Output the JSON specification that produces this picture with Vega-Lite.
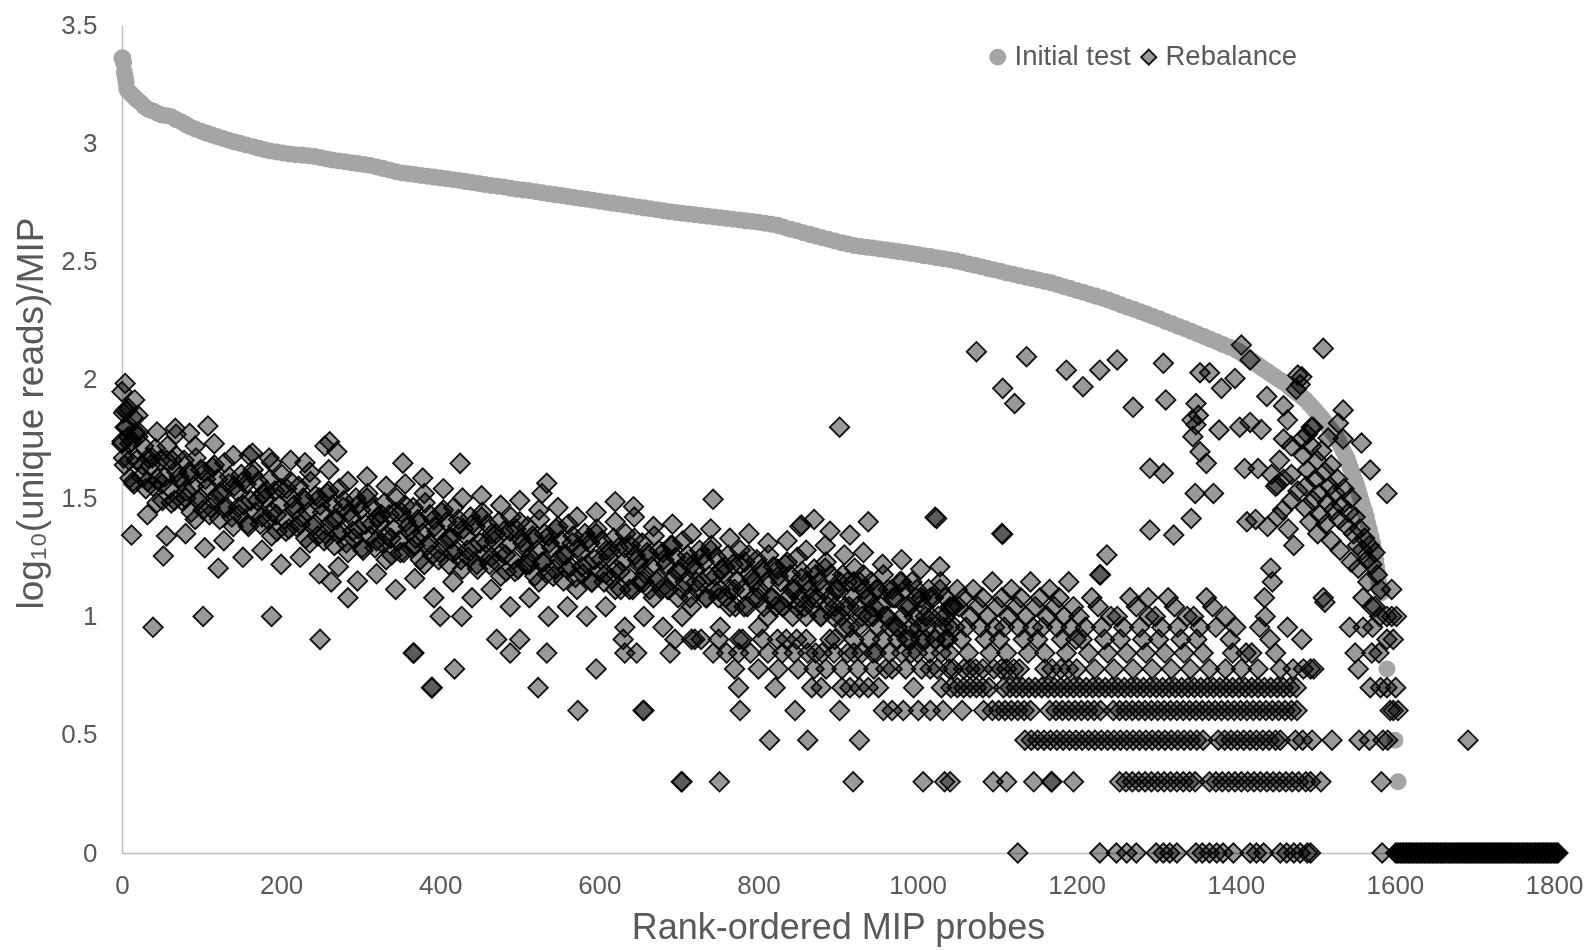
{
"$schema": "https://vega.github.io/schema/vega-lite/v6.json",
"width": 1432, "height": 828,
"autosize": {"type": "none"},
"padding": {"left": 122, "top": 25, "right": 39, "bottom": 97},
"background": "white",
"config": {
  "font": "Liberation Sans",
  "view": {"stroke": null},
  "axis": {"domainColor": "#bfbfbf", "domainWidth": 1.5, "labelFontSize": 26, "labelColor": "#595959", "titleFontSize": 36, "titleColor": "#595959", "titleFontWeight": "normal", "labelFont": "Liberation Sans", "titleFont": "Liberation Sans", "grid": false, "ticks": false, "tickSize": 0, "labelFlush": false}
},
"datasets": {
"init": [
{"x":0,"y":3.36},{"x":1,"y":3.36},{"x":2,"y":3.34},{"x":3,"y":3.3},{"x":4,"y":3.28},{"x":5,"y":3.26},{"x":6,"y":3.23},{"x":8,"y":3.22},{"x":11,"y":3.21},{"x":14,"y":3.2},{"x":17,"y":3.19},{"x":20,"y":3.18},{"x":24,"y":3.17},{"x":28,"y":3.155},{"x":32,"y":3.145},{"x":36,"y":3.14},{"x":40,"y":3.135},{"x":45,"y":3.126},{"x":50,"y":3.12},{"x":56,"y":3.116},{"x":62,"y":3.112},{"x":68,"y":3.1},{"x":75,"y":3.09},{"x":80,"y":3.08},{"x":85,"y":3.07},{"x":92,"y":3.06},{"x":100,"y":3.05},{"x":106,"y":3.043},{"x":113,"y":3.035},{"x":120,"y":3.028},{"x":127,"y":3.02},{"x":134,"y":3.013},{"x":141,"y":3.006},{"x":148,"y":3.0},{"x":156,"y":2.993},{"x":165,"y":2.985},{"x":172,"y":2.979},{"x":179,"y":2.973},{"x":186,"y":2.967},{"x":194,"y":2.963},{"x":202,"y":2.959},{"x":210,"y":2.955},{"x":218,"y":2.952},{"x":226,"y":2.95},{"x":234,"y":2.947},{"x":242,"y":2.944},{"x":250,"y":2.939},{"x":257,"y":2.934},{"x":264,"y":2.929},{"x":272,"y":2.925},{"x":280,"y":2.922},{"x":288,"y":2.918},{"x":296,"y":2.914},{"x":304,"y":2.91},{"x":312,"y":2.906},{"x":320,"y":2.9},{"x":328,"y":2.894},{"x":336,"y":2.887},{"x":344,"y":2.88},{"x":352,"y":2.874},{"x":360,"y":2.871},{"x":368,"y":2.868},{"x":376,"y":2.864},{"x":384,"y":2.861},{"x":392,"y":2.857},{"x":400,"y":2.853},{"x":408,"y":2.85},{"x":416,"y":2.846},{"x":424,"y":2.843},{"x":432,"y":2.838},{"x":440,"y":2.834},{"x":448,"y":2.83},{"x":456,"y":2.826},{"x":464,"y":2.822},{"x":472,"y":2.818},{"x":480,"y":2.815},{"x":488,"y":2.81},{"x":496,"y":2.806},{"x":504,"y":2.803},{"x":512,"y":2.799},{"x":520,"y":2.795},{"x":528,"y":2.791},{"x":536,"y":2.787},{"x":544,"y":2.783},{"x":552,"y":2.779},{"x":560,"y":2.775},{"x":568,"y":2.771},{"x":576,"y":2.767},{"x":584,"y":2.763},{"x":592,"y":2.759},{"x":600,"y":2.755},{"x":608,"y":2.751},{"x":616,"y":2.747},{"x":624,"y":2.743},{"x":632,"y":2.739},{"x":640,"y":2.735},{"x":648,"y":2.731},{"x":656,"y":2.727},{"x":664,"y":2.723},{"x":672,"y":2.719},{"x":680,"y":2.715},{"x":688,"y":2.711},{"x":696,"y":2.707},{"x":704,"y":2.704},{"x":712,"y":2.701},{"x":720,"y":2.698},{"x":728,"y":2.695},{"x":736,"y":2.692},{"x":744,"y":2.688},{"x":752,"y":2.685},{"x":760,"y":2.682},{"x":768,"y":2.679},{"x":776,"y":2.676},{"x":784,"y":2.672},{"x":792,"y":2.669},{"x":800,"y":2.666},{"x":808,"y":2.662},{"x":816,"y":2.658},{"x":824,"y":2.653},{"x":832,"y":2.645},{"x":840,"y":2.637},{"x":848,"y":2.63},{"x":856,"y":2.622},{"x":864,"y":2.615},{"x":872,"y":2.608},{"x":880,"y":2.601},{"x":888,"y":2.594},{"x":896,"y":2.587},{"x":904,"y":2.58},{"x":912,"y":2.574},{"x":920,"y":2.568},{"x":928,"y":2.564},{"x":936,"y":2.561},{"x":944,"y":2.557},{"x":952,"y":2.553},{"x":960,"y":2.55},{"x":968,"y":2.546},{"x":976,"y":2.542},{"x":984,"y":2.538},{"x":992,"y":2.534},{"x":1000,"y":2.53},{"x":1008,"y":2.525},{"x":1016,"y":2.521},{"x":1024,"y":2.516},{"x":1032,"y":2.512},{"x":1040,"y":2.508},{"x":1048,"y":2.503},{"x":1056,"y":2.497},{"x":1064,"y":2.49},{"x":1072,"y":2.484},{"x":1080,"y":2.478},{"x":1088,"y":2.471},{"x":1096,"y":2.465},{"x":1104,"y":2.459},{"x":1112,"y":2.452},{"x":1120,"y":2.446},{"x":1128,"y":2.44},{"x":1136,"y":2.434},{"x":1144,"y":2.428},{"x":1152,"y":2.422},{"x":1160,"y":2.416},{"x":1168,"y":2.41},{"x":1176,"y":2.402},{"x":1184,"y":2.394},{"x":1192,"y":2.386},{"x":1200,"y":2.378},{"x":1208,"y":2.37},{"x":1216,"y":2.362},{"x":1224,"y":2.354},{"x":1232,"y":2.346},{"x":1240,"y":2.337},{"x":1248,"y":2.327},{"x":1256,"y":2.317},{"x":1264,"y":2.307},{"x":1272,"y":2.298},{"x":1280,"y":2.288},{"x":1288,"y":2.278},{"x":1296,"y":2.268},{"x":1304,"y":2.258},{"x":1312,"y":2.247},{"x":1320,"y":2.237},{"x":1328,"y":2.226},{"x":1336,"y":2.216},{"x":1344,"y":2.205},{"x":1352,"y":2.194},{"x":1360,"y":2.183},{"x":1368,"y":2.172},{"x":1376,"y":2.161},{"x":1384,"y":2.149},{"x":1392,"y":2.138},{"x":1400,"y":2.126},{"x":1404,"y":2.12},{"x":1408,"y":2.111},{"x":1412,"y":2.101},{"x":1416,"y":2.092},{"x":1420,"y":2.082},{"x":1424,"y":2.072},{"x":1428,"y":2.062},{"x":1432,"y":2.052},{"x":1436,"y":2.043},{"x":1440,"y":2.034},{"x":1444,"y":2.025},{"x":1448,"y":2.016},{"x":1452,"y":2.007},{"x":1456,"y":1.998},{"x":1460,"y":1.99},{"x":1464,"y":1.98},{"x":1468,"y":1.969},{"x":1472,"y":1.958},{"x":1476,"y":1.948},{"x":1480,"y":1.937},{"x":1484,"y":1.926},{"x":1488,"y":1.915},{"x":1492,"y":1.9},{"x":1496,"y":1.885},{"x":1500,"y":1.87},{"x":1504,"y":1.855},{"x":1508,"y":1.84},{"x":1511,"y":1.826},{"x":1514,"y":1.813},{"x":1517,"y":1.8},{"x":1520,"y":1.786},{"x":1523,"y":1.773},{"x":1526,"y":1.76},{"x":1529,"y":1.74},{"x":1532,"y":1.72},{"x":1535,"y":1.7},{"x":1538,"y":1.68},{"x":1540,"y":1.666},{"x":1542,"y":1.647},{"x":1544,"y":1.628},{"x":1546,"y":1.61},{"x":1548,"y":1.591},{"x":1550,"y":1.572},{"x":1552,"y":1.552},{"x":1554,"y":1.53},{"x":1556,"y":1.508},{"x":1558,"y":1.486},{"x":1560,"y":1.465},{"x":1562,"y":1.443},{"x":1564,"y":1.421},{"x":1566,"y":1.393},{"x":1568,"y":1.365},{"x":1570,"y":1.337},{"x":1572,"y":1.309},{"x":1574,"y":1.281},{"x":1575,"y":1.258},{"x":1576,"y":1.235},{"x":1577,"y":1.211},{"x":1578,"y":1.188},{"x":1579,"y":1.164},{"x":1580,"y":1.14},{"x":1582,"y":1.115},{"x":1583,"y":1.1},{"x":1590,"y":0.778},{"x":1600,"y":0.477},{"x":1604,"y":0.301}
],
"reb": [
{"x":0,"y":1.74},{"x":3,"y":1.64},{"x":6,"y":1.8},{"x":9,"y":1.66},{"x":12,"y":1.74},{"x":15,"y":1.56},{"x":18,"y":1.66},
{"x":21,"y":1.78},{"x":24,"y":1.59},{"x":27,"y":1.72},{"x":30,"y":1.54},{"x":33,"y":1.67},{"x":36,"y":1.64},{"x":39,"y":1.55},{"x":42,"y":1.71},{"x":45,"y":1.58},{"x":48,"y":1.66},
{"x":51,"y":1.49},{"x":54,"y":1.59},{"x":57,"y":1.72},{"x":60,"y":1.54},{"x":63,"y":1.66},{"x":66,"y":1.49},{"x":69,"y":1.61},{"x":72,"y":1.59},{"x":75,"y":1.49},{"x":78,"y":1.66},{"x":81,"y":1.53},{"x":84,"y":1.61},
{"x":87,"y":1.44},{"x":90,"y":1.55},{"x":93,"y":1.67},{"x":96,"y":1.49},{"x":99,"y":1.62},{"x":102,"y":1.45},{"x":105,"y":1.58},{"x":108,"y":1.55},{"x":111,"y":1.46},{"x":114,"y":1.63},{"x":117,"y":1.5},{"x":120,"y":1.58},{"x":123,"y":1.41},{"x":126,"y":1.52},{"x":129,"y":1.65},{"x":132,"y":1.46},{"x":135,"y":1.59},{"x":138,"y":1.42},{"x":141,"y":1.55},{"x":144,"y":1.53},{"x":147,"y":1.43},{"x":150,"y":1.6},
{"x":153,"y":1.47},{"x":156,"y":1.56},{"x":159,"y":1.38},{"x":162,"y":1.49},{"x":165,"y":1.62},{"x":168,"y":1.44},{"x":171,"y":1.57},{"x":174,"y":1.39},{"x":177,"y":1.52},{"x":180,"y":1.5},{"x":183,"y":1.41},{"x":186,"y":1.58},{"x":189,"y":1.44},{"x":192,"y":1.53},{"x":195,"y":1.36},{"x":198,"y":1.47},{"x":201,"y":1.6},{"x":204,"y":1.41},{"x":207,"y":1.54},{"x":210,"y":1.37},
{"x":213,"y":1.5},{"x":216,"y":1.47},{"x":219,"y":1.38},{"x":222,"y":1.55},{"x":225,"y":1.42},{"x":228,"y":1.5},{"x":231,"y":1.33},{"x":234,"y":1.44},{"x":237,"y":1.57},{"x":240,"y":1.38},{"x":243,"y":1.51},{"x":246,"y":1.34},{"x":249,"y":1.47},{"x":252,"y":1.44},{"x":255,"y":1.35},{"x":258,"y":1.52},{"x":261,"y":1.39},{"x":264,"y":1.47},{"x":267,"y":1.3},{"x":270,"y":1.41},
{"x":273,"y":1.54},{"x":276,"y":1.36},{"x":279,"y":1.49},{"x":282,"y":1.31},{"x":285,"y":1.44},{"x":288,"y":1.42},{"x":291,"y":1.33},{"x":294,"y":1.5},{"x":297,"y":1.37},{"x":300,"y":1.45},{"x":303,"y":1.28},{"x":306,"y":1.39},{"x":309,"y":1.52},{"x":312,"y":1.34},{"x":315,"y":1.46},{"x":318,"y":1.29},{"x":321,"y":1.42},{"x":324,"y":1.4},{"x":327,"y":1.31},{"x":330,"y":1.48},{"x":333,"y":1.34},{"x":336,"y":1.43},{"x":339,"y":1.26},
{"x":342,"y":1.37},{"x":345,"y":1.5},{"x":348,"y":1.32},{"x":351,"y":1.44},{"x":354,"y":1.27},{"x":357,"y":1.4},{"x":360,"y":1.38},{"x":363,"y":1.29},{"x":366,"y":1.46},{"x":369,"y":1.33},{"x":372,"y":1.41},{"x":375,"y":1.24},{"x":378,"y":1.35},{"x":381,"y":1.48},{"x":384,"y":1.3},{"x":387,"y":1.43},{"x":390,"y":1.26},{"x":393,"y":1.38},{"x":396,"y":1.36},{"x":399,"y":1.27},
{"x":402,"y":1.44},{"x":405,"y":1.31},{"x":408,"y":1.4},{"x":411,"y":1.22},{"x":414,"y":1.33},{"x":417,"y":1.46},{"x":420,"y":1.28},{"x":423,"y":1.41},{"x":426,"y":1.24},{"x":429,"y":1.37},{"x":432,"y":1.34},{"x":435,"y":1.25},{"x":438,"y":1.42},{"x":441,"y":1.29},{"x":444,"y":1.38},{"x":447,"y":1.2},{"x":450,"y":1.31},{"x":453,"y":1.44},{"x":456,"y":1.26},{"x":459,"y":1.39},{"x":462,"y":1.22},{"x":465,"y":1.35},{"x":468,"y":1.32},{"x":471,"y":1.23},{"x":474,"y":1.4},
{"x":477,"y":1.27},{"x":480,"y":1.36},{"x":483,"y":1.19},{"x":486,"y":1.3},{"x":489,"y":1.42},{"x":492,"y":1.24},{"x":495,"y":1.37},{"x":498,"y":1.2},{"x":501,"y":1.33},{"x":504,"y":1.31},{"x":507,"y":1.22},{"x":510,"y":1.38},{"x":513,"y":1.25},{"x":516,"y":1.34},{"x":519,"y":1.17},{"x":522,"y":1.28},{"x":525,"y":1.41},{"x":528,"y":1.23},{"x":531,"y":1.35},{"x":534,"y":1.18},{"x":537,"y":1.31},{"x":540,"y":1.29},{"x":543,"y":1.2},{"x":546,"y":1.37},{"x":549,"y":1.24},{"x":552,"y":1.32},{"x":555,"y":1.15},{"x":558,"y":1.26},{"x":561,"y":1.39},{"x":564,"y":1.21},{"x":567,"y":1.34},{"x":570,"y":1.165},{"x":573,"y":1.29},{"x":576,"y":1.27},{"x":579,"y":1.18},
{"x":582,"y":1.35},{"x":585,"y":1.22},{"x":588,"y":1.31},{"x":591,"y":1.146},{"x":594,"y":1.24},{"x":597,"y":1.37},{"x":600,"y":1.19},{"x":603,"y":1.32},{"x":606,"y":1.146},{"x":609,"y":1.28},{"x":612,"y":1.25},{"x":615,"y":1.16},{"x":618,"y":1.33},{"x":621,"y":1.2},{"x":624,"y":1.29},{"x":627,"y":1.114},{"x":630,"y":1.23},{"x":633,"y":1.35},{"x":636,"y":1.17},{"x":639,"y":1.3},{"x":642,"y":1.114},{"x":645,"y":1.26},{"x":648,"y":1.24},{"x":651,"y":1.146},{"x":654,"y":1.31},{"x":657,"y":1.18},{"x":660,"y":1.27},{"x":663,"y":1.114},{"x":666,"y":1.21},{"x":669,"y":1.34},{"x":672,"y":1.15},{"x":675,"y":1.28},{"x":678,"y":1.114},{"x":681,"y":1.24},
{"x":684,"y":1.22},{"x":687,"y":1.114},{"x":690,"y":1.3},{"x":693,"y":1.16},{"x":696,"y":1.25},{"x":699,"y":1.079},{"x":702,"y":1.19},{"x":705,"y":1.32},{"x":708,"y":1.146},{"x":711,"y":1.26},{"x":714,"y":1.079},{"x":717,"y":1.22},{"x":720,"y":1.2},{"x":723,"y":1.114},{"x":726,"y":1.28},{"x":729,"y":1.146},{"x":732,"y":1.23},{"x":735,"y":1.079},{"x":738,"y":1.17},{"x":741,"y":1.3},{"x":744,"y":1.114},{"x":747,"y":1.25},{"x":750,"y":1.079},{"x":753,"y":1.2},{"x":756,"y":1.18},{"x":759,"y":1.079},{"x":762,"y":1.26},{"x":765,"y":1.114},{"x":768,"y":1.22},{"x":771,"y":1.041},{"x":774,"y":1.15},{"x":777,"y":1.28},{"x":780,"y":1.114},
{"x":783,"y":1.23},{"x":786,"y":1.041},{"x":789,"y":1.176},{"x":792,"y":1.16},{"x":795,"y":1.079},{"x":798,"y":1.24},{"x":801,"y":1.114},{"x":804,"y":1.2},{"x":807,"y":1.041},{"x":810,"y":1.146},{"x":813,"y":1.26},{"x":816,"y":1.079},{"x":819,"y":1.21},{"x":822,"y":1.041},{"x":825,"y":1.17},{"x":828,"y":1.146},{"x":831,"y":1.041},{"x":834,"y":1.22},{"x":837,"y":1.079},{"x":840,"y":1.176},{"x":843,"y":1.0},{"x":846,"y":1.114},{"x":849,"y":1.25},{"x":852,"y":1.079},{"x":855,"y":1.19},{"x":858,"y":1.041},{"x":861,"y":1.146},{"x":864,"y":1.114},{"x":867,"y":1.041},{"x":870,"y":1.2},{"x":873,"y":1.079},{"x":876,"y":1.146},{"x":879,"y":1.0},{"x":882,"y":1.114},
{"x":885,"y":1.23},{"x":888,"y":1.041},{"x":891,"y":1.176},{"x":894,"y":1.0},{"x":897,"y":1.114},{"x":900,"y":1.114},{"x":903,"y":1.0},{"x":906,"y":1.176},{"x":909,"y":1.041},{"x":912,"y":1.146},{"x":915,"y":0.954},{"x":918,"y":1.079},{"x":921,"y":1.204},{"x":924,"y":1.041},{"x":927,"y":1.146},{"x":930,"y":1.0},{"x":933,"y":1.114},{"x":936,"y":1.079},{"x":939,"y":1.0},{"x":942,"y":1.146},{"x":945,"y":1.041},{"x":948,"y":1.114},{"x":951,"y":0.954},{"x":954,"y":1.041},{"x":957,"y":1.176},{"x":960,"y":1.0},
{"x":963,"y":1.114},{"x":966,"y":0.954},{"x":969,"y":1.079},{"x":972,"y":1.079},{"x":975,"y":0.954},{"x":978,"y":1.146},{"x":981,"y":1.0},{"x":984,"y":1.114},{"x":987,"y":0.903},{"x":990,"y":1.041},{"x":993,"y":1.146},{"x":996,"y":1.0},{"x":999,"y":1.114},{"x":1002,"y":0.954},{"x":1005,"y":1.079},{"x":1008,"y":1.041},{"x":1011,"y":0.954},{"x":1014,"y":1.114},{"x":1017,"y":1.0},{"x":1020,"y":1.079},{"x":1023,"y":0.903},{"x":1026,"y":1.0},{"x":1029,"y":1.146},{"x":1032,"y":0.954},{"x":1035,"y":1.079},{"x":1038,"y":0.903},{"x":1041,"y":1.041},{"x":1044,"y":1.041},{"x":1047,"y":0.954},{"x":1050,"y":1.114},
{"x":2,"y":1.67},{"x":8,"y":1.76},{"x":14,"y":1.57},{"x":20,"y":1.76},{"x":26,"y":1.64},{"x":32,"y":1.57},{"x":38,"y":1.67},{"x":44,"y":1.48},{"x":50,"y":1.56},{"x":56,"y":1.66},{"x":62,"y":1.48},{"x":68,"y":1.68},{"x":74,"y":1.57},{"x":80,"y":1.5},{"x":86,"y":1.6},{"x":92,"y":1.41},{"x":98,"y":1.5},{"x":104,"y":1.61},{"x":110,"y":1.43},{"x":116,"y":1.64},{"x":122,"y":1.52},{"x":128,"y":1.46},{"x":134,"y":1.56},{"x":140,"y":1.38},{"x":146,"y":1.46},{"x":152,"y":1.57},{"x":158,"y":1.39},{"x":164,"y":1.6},{"x":170,"y":1.49},{"x":176,"y":1.42},{"x":182,"y":1.53},{"x":188,"y":1.34},{"x":194,"y":1.43},{"x":200,"y":1.54},{"x":206,"y":1.36},{"x":212,"y":1.57},{"x":218,"y":1.45},{"x":224,"y":1.39},{"x":230,"y":1.49},{"x":236,"y":1.31},{"x":242,"y":1.39},{"x":248,"y":1.5},{"x":254,"y":1.32},{"x":260,"y":1.53},{"x":266,"y":1.41},{"x":272,"y":1.35},{"x":278,"y":1.46},{"x":284,"y":1.27},{"x":290,"y":1.36},{"x":296,"y":1.47},{"x":302,"y":1.29},{"x":308,"y":1.5},{"x":314,"y":1.39},{"x":320,"y":1.32},{"x":326,"y":1.43},{"x":332,"y":1.24},{"x":338,"y":1.33},{"x":344,"y":1.44},{"x":350,"y":1.27},{"x":356,"y":1.47},{"x":362,"y":1.36},{"x":368,"y":1.3},{"x":374,"y":1.4},{"x":380,"y":1.22},{"x":386,"y":1.31},{"x":392,"y":1.41},{"x":398,"y":1.24},{"x":404,"y":1.45},{"x":410,"y":1.33},{"x":416,"y":1.27},{"x":422,"y":1.38},{"x":428,"y":1.2},{"x":434,"y":1.28},{"x":440,"y":1.39},{"x":446,"y":1.22},{"x":452,"y":1.42},{"x":458,"y":1.31},{"x":464,"y":1.25},{"x":470,"y":1.35},{"x":476,"y":1.17},{"x":482,"y":1.26},{"x":488,"y":1.36},{"x":494,"y":1.19},{"x":500,"y":1.4},{"x":506,"y":1.29},{"x":512,"y":1.22},{"x":518,"y":1.33},{"x":524,"y":1.146},{"x":530,"y":1.23},{"x":536,"y":1.34},{"x":542,"y":1.17},{"x":548,"y":1.38},{"x":554,"y":1.26},{"x":560,"y":1.2},{"x":566,"y":1.31},{"x":572,"y":1.114},{"x":578,"y":1.21},{"x":584,"y":1.32},{"x":590,"y":1.146},{"x":596,"y":1.35},{"x":602,"y":1.24},{"x":608,"y":1.18},{"x":614,"y":1.28},{"x":620,"y":1.114},{"x":626,"y":1.19},{"x":632,"y":1.29},{"x":638,"y":1.114},{"x":644,"y":1.33},{"x":650,"y":1.22},{"x":656,"y":1.146},{"x":662,"y":1.26},{"x":668,"y":1.079},{"x":674,"y":1.16},{"x":680,"y":1.27},{"x":686,"y":1.114},{"x":692,"y":1.3},{"x":698,"y":1.19},{"x":704,"y":1.114},{"x":710,"y":1.23},{"x":716,"y":1.041},{"x":722,"y":1.146},{"x":728,"y":1.25},{"x":734,"y":1.079},{"x":740,"y":1.28},{"x":746,"y":1.17},{"x":752,"y":1.114},{"x":758,"y":1.21},{"x":764,"y":1.041},{"x":770,"y":1.114},{"x":776,"y":1.22},{"x":782,"y":1.041},{"x":788,"y":1.26},{"x":794,"y":1.146},{"x":800,"y":1.079},{"x":806,"y":1.19},{"x":812,"y":1.0},{"x":818,"y":1.079},{"x":824,"y":1.2},{"x":830,"y":1.041},{"x":836,"y":1.23},{"x":842,"y":1.114},{"x":848,"y":1.041},{"x":854,"y":1.16},{"x":860,"y":1.0},{"x":866,"y":1.079},{"x":872,"y":1.176},{"x":878,"y":1.0},{"x":884,"y":1.204},{"x":890,"y":1.079},{"x":896,"y":1.041},{"x":902,"y":1.146},{"x":908,"y":0.954},{"x":914,"y":1.041},{"x":920,"y":1.146},{"x":926,"y":0.954},{"x":932,"y":1.176},{"x":938,"y":1.079},{"x":944,"y":1.0},{"x":950,"y":1.114},{"x":956,"y":0.903},{"x":962,"y":1.0},{"x":968,"y":1.114},{"x":974,"y":0.954},{"x":980,"y":1.146},{"x":986,"y":1.041},{"x":992,"y":0.954},{"x":998,"y":1.079},{"x":1004,"y":0.903},{"x":1010,"y":1.0},{"x":1016,"y":1.079},{"x":1022,"y":0.903},{"x":1028,"y":1.114},{"x":1034,"y":1.0},{"x":1040,"y":0.954},{"x":1046,"y":1.041},
{"x":4,"y":1.985},{"x":0,"y":1.95},{"x":16,"y":1.915},{"x":4,"y":1.87},{"x":6,"y":1.87},{"x":14,"y":1.84},{"x":4,"y":1.8},{"x":17,"y":1.78},{"x":0,"y":1.73},{"x":10,"y":1.73},{"x":10,"y":1.585},{"x":12,"y":1.344},{"x":2,"y":1.86},{"x":8,"y":1.88},
{"x":20,"y":1.85},{"x":32,"y":1.43},{"x":44,"y":1.78},{"x":56,"y":1.34},{"x":68,"y":1.77},{"x":80,"y":1.35},{"x":92,"y":1.72},{"x":104,"y":1.29},{"x":116,"y":1.73},{"x":128,"y":1.32},{"x":140,"y":1.68},{"x":152,"y":1.25},{"x":164,"y":1.69},{"x":176,"y":1.28},{"x":188,"y":1.65},{"x":200,"y":1.22},{"x":212,"y":1.66},{"x":224,"y":1.25},{"x":236,"y":1.61},{"x":248,"y":1.18},{"x":260,"y":1.62},{"x":272,"y":1.21},{"x":284,"y":1.57},{"x":296,"y":1.15},{"x":308,"y":1.59},{"x":320,"y":1.18},{"x":332,"y":1.55},{"x":344,"y":1.114},{"x":356,"y":1.56},{"x":368,"y":1.16},{"x":380,"y":1.52},{"x":392,"y":1.079},{"x":404,"y":1.54},{"x":416,"y":1.146},{"x":428,"y":1.5},{"x":440,"y":1.079},{"x":452,"y":1.51},{"x":464,"y":1.114},{"x":476,"y":1.47},{"x":488,"y":1.041},{"x":500,"y":1.49},{"x":512,"y":1.079},{"x":524,"y":1.45},{"x":536,"y":1.0},{"x":548,"y":1.46},{"x":560,"y":1.041},{"x":572,"y":1.42},{"x":584,"y":1.0},{"x":596,"y":1.44},{"x":608,"y":1.041},{"x":620,"y":1.4},{"x":632,"y":0.954},{"x":644,"y":1.42},{"x":656,"y":1.0},{"x":668,"y":1.38},{"x":680,"y":0.954},{"x":692,"y":1.39},{"x":704,"y":1.0},{"x":716,"y":1.35},{"x":728,"y":0.903},{"x":740,"y":1.37},{"x":752,"y":0.954},{"x":764,"y":1.33},{"x":776,"y":0.903},{"x":788,"y":1.35},{"x":800,"y":0.954},{"x":812,"y":1.31},{"x":824,"y":0.903},{"x":836,"y":1.32},{"x":848,"y":0.903},{"x":860,"y":1.28},{"x":872,"y":0.845},{"x":884,"y":1.3},{"x":896,"y":0.903},{"x":908,"y":1.26},{"x":920,"y":0.845},{"x":932,"y":1.27},{"x":944,"y":0.845},{"x":956,"y":1.22},{"x":968,"y":0.778},{"x":980,"y":1.24},{"x":992,"y":0.845},{"x":1004,"y":1.2},{"x":1016,"y":0.778},{"x":1028,"y":1.21},{"x":1040,"y":0.845},
{"x":67,"y":1.795},{"x":85,"y":1.774},{"x":108,"y":1.805},{"x":261,"y":1.738},{"x":270,"y":1.696},{"x":353,"y":1.648},{"x":378,"y":1.585},{"x":425,"y":1.647},{"x":534,"y":1.563},{"x":528,"y":1.52},{"x":620,"y":1.485},{"x":643,"y":1.464},{"x":743,"y":1.495},{"x":160,"y":1.68},{"x":185,"y":1.67},{"x":230,"y":1.65},{"x":255,"y":1.72},{"x":902,"y":1.8},{"x":1022,"y":1.419},{"x":938,"y":1.4},{"x":854,"y":1.386},{"x":915,"y":1.344},{"x":1024,"y":1.414},{"x":1106,"y":1.35},{"x":852,"y":1.38},{"x":870,"y":1.41},{"x":890,"y":1.36},
{"x":39,"y":0.954},{"x":52,"y":1.255},{"x":102,"y":1.0},{"x":121,"y":1.204},{"x":188,"y":1.0},{"x":249,"y":0.903},{"x":263,"y":1.146},{"x":284,"y":1.079},{"x":366,"y":0.845},{"x":367,"y":0.845},{"x":389,"y":0.699},{"x":390,"y":0.699},{"x":418,"y":0.778},{"x":400,"y":1.0},{"x":427,"y":1.0},{"x":471,"y":0.903},{"x":488,"y":0.845},{"x":500,"y":0.903},{"x":523,"y":0.699},{"x":534,"y":0.845},{"x":573,"y":0.602},{"x":596,"y":0.778},{"x":630,"y":0.903},{"x":632,"y":0.845},{"x":647,"y":0.845},{"x":655,"y":0.602},{"x":656,"y":0.602},{"x":689,"y":0.845},{"x":695,"y":0.903},{"x":703,"y":0.301},{"x":704,"y":0.301},{"x":716,"y":0.903},{"x":743,"y":0.845},{"x":751,"y":0.301},{"x":775,"y":0.699},{"x":777,"y":0.602},{"x":814,"y":0.477},{"x":821,"y":0.699},{"x":846,"y":0.602},{"x":862,"y":0.477},{"x":902,"y":0.602},{"x":919,"y":0.301},{"x":927,"y":0.477},{"x":957,"y":0.602},{"x":968,"y":0.602},{"x":982,"y":0.602},{"x":1001,"y":0.602},{"x":1007,"y":0.301},{"x":1016,"y":0.602},{"x":1032,"y":0.602},{"x":1034,"y":0.301},{"x":1083,"y":0.602},{"x":1095,"y":0.301},{"x":867,"y":0.699},{"x":879,"y":0.699},{"x":905,"y":0.699},{"x":915,"y":0.699},{"x":927,"y":0.699},{"x":938,"y":0.699},{"x":951,"y":0.699},{"x":995,"y":0.699},{"x":1030,"y":0.699},
{"x":760,"y":0.845},{"x":775,"y":0.845},{"x":790,"y":0.845},{"x":812,"y":0.845},{"x":830,"y":0.845},{"x":845,"y":0.845},{"x":862,"y":0.845},{"x":880,"y":0.845},{"x":895,"y":0.845},{"x":912,"y":0.845},{"x":930,"y":0.845},{"x":948,"y":0.845},{"x":965,"y":0.845},{"x":980,"y":0.845},{"x":1000,"y":0.845},{"x":1015,"y":0.845},{"x":1030,"y":0.845},
{"x":770,"y":0.778},{"x":800,"y":0.778},{"x":825,"y":0.778},{"x":850,"y":0.778},{"x":870,"y":0.778},{"x":885,"y":0.778},{"x":905,"y":0.778},{"x":925,"y":0.778},{"x":945,"y":0.778},{"x":960,"y":0.778},{"x":985,"y":0.778},{"x":1005,"y":0.778},{"x":1025,"y":0.778},{"x":1040,"y":0.778},
{"x":720,"y":0.903},{"x":750,"y":0.903},{"x":780,"y":0.903},{"x":805,"y":0.903},{"x":835,"y":0.903},{"x":860,"y":0.903},{"x":890,"y":0.903},{"x":920,"y":0.903},{"x":940,"y":0.903},{"x":975,"y":0.903},{"x":990,"y":0.903},{"x":1010,"y":0.903},{"x":1035,"y":0.903},
{"x":1052,"y":1.041},{"x":1055,"y":0.903},{"x":1058,"y":1.079},{"x":1061,"y":0.954},{"x":1064,"y":0.845},{"x":1067,"y":1.0},{"x":1070,"y":1.114},{"x":1073,"y":0.778},{"x":1076,"y":1.041},{"x":1079,"y":0.954},{"x":1082,"y":1.079},{"x":1085,"y":0.903},{"x":1088,"y":1.0},{"x":1091,"y":0.845},{"x":1094,"y":1.146},{"x":1097,"y":0.954},{"x":1100,"y":1.041},{"x":1103,"y":0.903},{"x":1106,"y":1.079},{"x":1109,"y":0.954},{"x":1112,"y":0.845},{"x":1115,"y":1.0},{"x":1118,"y":1.114},{"x":1121,"y":0.778},{"x":1124,"y":1.041},{"x":1127,"y":0.954},{"x":1130,"y":1.079},{"x":1133,"y":0.903},{"x":1136,"y":1.0},{"x":1139,"y":0.845},{"x":1142,"y":1.146},{"x":1145,"y":0.954},{"x":1148,"y":1.041},{"x":1151,"y":0.903},{"x":1154,"y":1.079},{"x":1157,"y":0.954},{"x":1160,"y":0.845},{"x":1163,"y":1.0},{"x":1166,"y":1.114},{"x":1169,"y":0.778},{"x":1172,"y":1.041},{"x":1175,"y":0.954},{"x":1178,"y":1.079},{"x":1181,"y":0.903},{"x":1184,"y":1.0},{"x":1187,"y":0.845},{"x":1190,"y":1.146},{"x":1193,"y":0.954},{"x":1196,"y":1.041},{"x":1199,"y":0.903},
{"x":1045,"y":0.778},{"x":1058,"y":0.778},{"x":1066,"y":0.778},{"x":1082,"y":0.778},{"x":1096,"y":0.778},{"x":1105,"y":0.778},{"x":1112,"y":0.778},{"x":1128,"y":0.778},{"x":1160,"y":0.778},{"x":1180,"y":0.778},{"x":1190,"y":0.778},{"x":1200,"y":0.778},
{"x":1203,"y":1.0},{"x":1207,"y":0.903},{"x":1211,"y":0.954},{"x":1215,"y":0.845},{"x":1219,"y":1.079},{"x":1223,"y":0.778},{"x":1227,"y":1.041},{"x":1231,"y":0.954},{"x":1235,"y":0.903},{"x":1239,"y":0.845},{"x":1243,"y":1.0},{"x":1247,"y":0.778},{"x":1251,"y":1.0},{"x":1255,"y":0.903},{"x":1259,"y":0.954},{"x":1263,"y":0.845},{"x":1267,"y":1.079},{"x":1271,"y":0.778},{"x":1275,"y":1.041},{"x":1279,"y":0.954},{"x":1283,"y":0.903},{"x":1287,"y":0.845},{"x":1291,"y":1.0},{"x":1295,"y":0.778},{"x":1299,"y":1.0},{"x":1303,"y":0.903},{"x":1307,"y":0.954},{"x":1311,"y":0.845},{"x":1315,"y":1.079},{"x":1319,"y":0.778},{"x":1323,"y":1.041},{"x":1327,"y":0.954},{"x":1331,"y":0.903},{"x":1335,"y":0.845},{"x":1339,"y":1.0},{"x":1343,"y":0.778},{"x":1347,"y":1.0},{"x":1351,"y":0.903},{"x":1355,"y":0.954},{"x":1359,"y":0.845},{"x":1363,"y":1.079},{"x":1367,"y":0.778},{"x":1371,"y":1.041},{"x":1375,"y":0.954},
{"x":1387,"y":1.0},{"x":1393,"y":0.903},{"x":1413,"y":0.845},{"x":1443,"y":0.903},{"x":1437,"y":1.0},{"x":1428,"y":0.778},{"x":1387,"y":0.778},{"x":1407,"y":0.778},{"x":1456,"y":0.778},{"x":1400,"y":0.954},{"x":1420,"y":0.845},{"x":1450,"y":0.845},{"x":1465,"y":0.954},{"x":1472,"y":0.778},{"x":1485,"y":0.778},{"x":1396,"y":0.845},{"x":1430,"y":0.954},
{"x":1042,"y":0.699},{"x":1050,"y":0.699},{"x":1058,"y":0.699},{"x":1066,"y":0.699},{"x":1074,"y":0.699},{"x":1082,"y":0.699},{"x":1090,"y":0.699},{"x":1108,"y":0.699},{"x":1116,"y":0.699},{"x":1124,"y":0.699},{"x":1132,"y":0.699},{"x":1140,"y":0.699},{"x":1148,"y":0.699},{"x":1156,"y":0.699},{"x":1164,"y":0.699},{"x":1172,"y":0.699},{"x":1180,"y":0.699},{"x":1188,"y":0.699},{"x":1196,"y":0.699},{"x":1204,"y":0.699},{"x":1212,"y":0.699},{"x":1220,"y":0.699},{"x":1228,"y":0.699},{"x":1236,"y":0.699},{"x":1244,"y":0.699},{"x":1252,"y":0.699},{"x":1260,"y":0.699},{"x":1268,"y":0.699},{"x":1276,"y":0.699},{"x":1284,"y":0.699},{"x":1292,"y":0.699},{"x":1300,"y":0.699},{"x":1308,"y":0.699},{"x":1316,"y":0.699},{"x":1324,"y":0.699},{"x":1332,"y":0.699},{"x":1340,"y":0.699},{"x":1348,"y":0.699},{"x":1356,"y":0.699},{"x":1364,"y":0.699},{"x":1372,"y":0.699},{"x":1380,"y":0.699},{"x":1388,"y":0.699},{"x":1396,"y":0.699},{"x":1404,"y":0.699},{"x":1412,"y":0.699},{"x":1420,"y":0.699},{"x":1428,"y":0.699},{"x":1436,"y":0.699},{"x":1444,"y":0.699},{"x":1452,"y":0.699},{"x":1460,"y":0.699},{"x":1468,"y":0.699},{"x":1476,"y":0.699},
{"x":1056,"y":0.602},{"x":1094,"y":0.602},{"x":1102,"y":0.602},{"x":1110,"y":0.602},{"x":1118,"y":0.602},{"x":1126,"y":0.602},{"x":1134,"y":0.602},{"x":1142,"y":0.602},{"x":1166,"y":0.602},{"x":1174,"y":0.602},{"x":1182,"y":0.602},{"x":1190,"y":0.602},{"x":1198,"y":0.602},{"x":1206,"y":0.602},{"x":1214,"y":0.602},{"x":1222,"y":0.602},{"x":1230,"y":0.602},{"x":1246,"y":0.602},{"x":1254,"y":0.602},{"x":1262,"y":0.602},{"x":1270,"y":0.602},{"x":1278,"y":0.602},{"x":1286,"y":0.602},{"x":1294,"y":0.602},{"x":1302,"y":0.602},{"x":1310,"y":0.602},{"x":1318,"y":0.602},{"x":1326,"y":0.602},{"x":1334,"y":0.602},{"x":1342,"y":0.602},{"x":1350,"y":0.602},{"x":1358,"y":0.602},{"x":1366,"y":0.602},{"x":1374,"y":0.602},{"x":1382,"y":0.602},{"x":1390,"y":0.602},{"x":1398,"y":0.602},{"x":1406,"y":0.602},{"x":1414,"y":0.602},{"x":1422,"y":0.602},{"x":1430,"y":0.602},{"x":1438,"y":0.602},{"x":1446,"y":0.602},{"x":1454,"y":0.602},{"x":1462,"y":0.602},{"x":1470,"y":0.602},{"x":1477,"y":0.602},
{"x":1135,"y":0.477},{"x":1143,"y":0.477},{"x":1151,"y":0.477},{"x":1159,"y":0.477},{"x":1167,"y":0.477},{"x":1175,"y":0.477},{"x":1183,"y":0.477},{"x":1191,"y":0.477},{"x":1199,"y":0.477},{"x":1207,"y":0.477},{"x":1215,"y":0.477},{"x":1223,"y":0.477},{"x":1231,"y":0.477},{"x":1239,"y":0.477},{"x":1247,"y":0.477},{"x":1255,"y":0.477},{"x":1263,"y":0.477},{"x":1271,"y":0.477},{"x":1279,"y":0.477},{"x":1287,"y":0.477},{"x":1295,"y":0.477},{"x":1303,"y":0.477},{"x":1311,"y":0.477},{"x":1319,"y":0.477},{"x":1327,"y":0.477},{"x":1335,"y":0.477},{"x":1343,"y":0.477},{"x":1351,"y":0.477},{"x":1359,"y":0.477},{"x":1378,"y":0.477},{"x":1386,"y":0.477},{"x":1394,"y":0.477},{"x":1402,"y":0.477},{"x":1410,"y":0.477},{"x":1418,"y":0.477},{"x":1426,"y":0.477},{"x":1434,"y":0.477},{"x":1442,"y":0.477},{"x":1450,"y":0.477},{"x":1456,"y":0.477},{"x":1484,"y":0.477},
{"x":1041,"y":0.301},{"x":1112,"y":0.301},{"x":1146,"y":0.301},{"x":1168,"y":0.301},{"x":1169,"y":0.301},{"x":1196,"y":0.301},{"x":1254,"y":0.301},{"x":1262,"y":0.301},{"x":1270,"y":0.301},{"x":1278,"y":0.301},{"x":1286,"y":0.301},{"x":1294,"y":0.301},{"x":1302,"y":0.301},{"x":1310,"y":0.301},{"x":1318,"y":0.301},{"x":1326,"y":0.301},{"x":1334,"y":0.301},{"x":1342,"y":0.301},{"x":1349,"y":0.301},{"x":1367,"y":0.301},{"x":1375,"y":0.301},{"x":1383,"y":0.301},{"x":1391,"y":0.301},{"x":1399,"y":0.301},{"x":1407,"y":0.301},{"x":1415,"y":0.301},{"x":1423,"y":0.301},{"x":1431,"y":0.301},{"x":1439,"y":0.301},{"x":1447,"y":0.301},{"x":1455,"y":0.301},{"x":1463,"y":0.301},{"x":1471,"y":0.301},{"x":1479,"y":0.301},{"x":1488,"y":0.301},{"x":1494,"y":0.301},{"x":1507,"y":0.301},
{"x":1126,"y":0},{"x":1229,"y":0},{"x":1250,"y":0},{"x":1263,"y":0},{"x":1275,"y":0},{"x":1300,"y":0},{"x":1309,"y":0},{"x":1317,"y":0},{"x":1326,"y":0},{"x":1350,"y":0},{"x":1358,"y":0},{"x":1367,"y":0},{"x":1376,"y":0},{"x":1384,"y":0},{"x":1397,"y":0},{"x":1418,"y":0},{"x":1426,"y":0},{"x":1435,"y":0},{"x":1456,"y":0},{"x":1464,"y":0},{"x":1473,"y":0},{"x":1481,"y":0},{"x":1490,"y":0},{"x":1494,"y":0},{"x":1584,"y":0},
{"x":1074,"y":2.119},{"x":1137,"y":2.098},{"x":1107,"y":1.964},{"x":1122,"y":1.9},{"x":1187,"y":2.041},{"x":1208,"y":1.971},{"x":1229,"y":2.041},{"x":1251,"y":2.084},{"x":1271,"y":1.884},{"x":1309,"y":2.07},{"x":1312,"y":1.915},{"x":1350,"y":1.9},{"x":1353,"y":1.85},{"x":1345,"y":1.83},{"x":1350,"y":1.81},{"x":1346,"y":1.76},{"x":1355,"y":2.03},{"x":1367,"y":2.03},{"x":1382,"y":1.964},{"x":1399,"y":2.006},{"x":1407,"y":2.147},{"x":1418,"y":2.084},{"x":1379,"y":1.788},{"x":1355,"y":1.696},{"x":1363,"y":1.647},{"x":1292,"y":1.626},{"x":1309,"y":1.605},{"x":1349,"y":1.52},{"x":1372,"y":1.52},{"x":1344,"y":1.414},{"x":1292,"y":1.365},{"x":1322,"y":1.344},{"x":1107,"y":1.347},{"x":1238,"y":1.26},{"x":1229,"y":1.176},{"x":1230,"y":1.176},{"x":1290,"y":1.079},
{"x":1439,"y":1.93},{"x":1460,"y":1.89},{"x":1478,"y":2.02},{"x":1476,"y":1.96},{"x":1405,"y":1.8},{"x":1418,"y":1.82},{"x":1432,"y":1.79},{"x":1411,"y":1.625},{"x":1428,"y":1.625},{"x":1455,"y":1.66},{"x":1445,"y":1.6},{"x":1460,"y":1.58},{"x":1450,"y":1.55},{"x":1452,"y":1.556},{"x":1470,"y":1.6},{"x":1414,"y":1.4},{"x":1425,"y":1.41},{"x":1440,"y":1.38},{"x":1452,"y":1.42},{"x":1466,"y":1.37},{"x":1444,"y":1.204},{"x":1446,"y":1.146},{"x":1436,"y":1.079},{"x":1510,"y":2.133},{"x":1483,"y":2.013},{"x":1481,"y":1.98},{"x":1535,"y":1.872},{"x":1529,"y":1.817},{"x":1495,"y":1.8},{"x":1497,"y":1.8},{"x":1516,"y":1.754},{"x":1535,"y":1.75},{"x":1558,"y":1.733},{"x":1483,"y":1.75},{"x":1569,"y":1.619},{"x":1590,"y":1.52},{"x":1596,"y":1.114},{"x":1510,"y":1.079},{"x":1571,"y":1.041},{"x":1554,"y":1.204},{"x":1566,"y":1.146},
{"x":1485,"y":1.68},{"x":1490,"y":1.62},{"x":1495,"y":1.72},{"x":1500,"y":1.58},{"x":1502,"y":1.66},{"x":1505,"y":1.52},{"x":1508,"y":1.7},{"x":1512,"y":1.61},{"x":1515,"y":1.48},{"x":1518,"y":1.55},{"x":1520,"y":1.64},{"x":1523,"y":1.45},{"x":1525,"y":1.52},{"x":1528,"y":1.58},{"x":1530,"y":1.41},{"x":1533,"y":1.47},{"x":1536,"y":1.54},{"x":1540,"y":1.38},{"x":1542,"y":1.44},{"x":1545,"y":1.5},{"x":1548,"y":1.35},{"x":1550,"y":1.42},{"x":1553,"y":1.3},{"x":1556,"y":1.37},{"x":1559,"y":1.28},{"x":1562,"y":1.33},{"x":1565,"y":1.24},{"x":1568,"y":1.3},{"x":1571,"y":1.22},{"x":1575,"y":1.27},{"x":1578,"y":1.176},{"x":1582,"y":1.114},{"x":1488,"y":1.55},{"x":1497,"y":1.49},{"x":1506,"y":1.43},{"x":1513,"y":1.39},{"x":1487,"y":1.46},{"x":1493,"y":1.4},{"x":1503,"y":1.35},{"x":1520,"y":1.32},{"x":1531,"y":1.28},{"x":1545,"y":1.23},{"x":1560,"y":1.079},{"x":1575,"y":1.041},{"x":1460,"y":1.75},{"x":1470,"y":1.72},{"x":1490,"y":1.77},{"x":1465,"y":1.83},{"x":1459,"y":1.45},{"x":1470,"y":1.49},{"x":1478,"y":1.53},{"x":1473,"y":1.3},
{"x":1512,"y":1.06},{"x":1581,"y":1.0},{"x":1590,"y":1.0},{"x":1596,"y":1.0},{"x":1602,"y":1.0},{"x":1543,"y":0.954},{"x":1560,"y":0.954},{"x":1572,"y":0.954},{"x":1483,"y":0.903},{"x":1590,"y":0.903},{"x":1598,"y":0.903},{"x":1550,"y":0.845},{"x":1571,"y":0.845},{"x":1580,"y":0.845},{"x":1554,"y":0.778},{"x":1494,"y":0.778},{"x":1498,"y":0.778},{"x":1569,"y":0.699},{"x":1582,"y":0.699},{"x":1590,"y":0.699},{"x":1601,"y":0.699},{"x":1594,"y":0.602},{"x":1598,"y":0.602},{"x":1604,"y":0.602},{"x":1475,"y":0.477},{"x":1496,"y":0.477},{"x":1521,"y":0.477},{"x":1555,"y":0.477},{"x":1568,"y":0.477},{"x":1585,"y":0.477},{"x":1591,"y":0.477},{"x":1692,"y":0.477},{"x":1583,"y":0.301},
{"x":1601,"y":0},{"x":1603,"y":0},{"x":1605,"y":0},{"x":1607,"y":0},{"x":1609,"y":0},{"x":1611,"y":0},{"x":1613,"y":0},{"x":1615,"y":0},{"x":1617,"y":0},{"x":1619,"y":0},{"x":1621,"y":0},{"x":1623,"y":0},{"x":1625,"y":0},{"x":1627,"y":0},{"x":1629,"y":0},{"x":1631,"y":0},{"x":1633,"y":0},{"x":1635,"y":0},{"x":1637,"y":0},{"x":1639,"y":0},{"x":1641,"y":0},{"x":1643,"y":0},{"x":1645,"y":0},{"x":1647,"y":0},{"x":1649,"y":0},{"x":1651,"y":0},{"x":1653,"y":0},{"x":1655,"y":0},{"x":1657,"y":0},{"x":1659,"y":0},{"x":1661,"y":0},{"x":1663,"y":0},{"x":1665,"y":0},{"x":1667,"y":0},{"x":1669,"y":0},{"x":1671,"y":0},{"x":1673,"y":0},{"x":1675,"y":0},{"x":1677,"y":0},{"x":1679,"y":0},{"x":1681,"y":0},{"x":1683,"y":0},{"x":1685,"y":0},{"x":1687,"y":0},{"x":1689,"y":0},{"x":1691,"y":0},{"x":1693,"y":0},{"x":1695,"y":0},{"x":1697,"y":0},{"x":1699,"y":0},{"x":1701,"y":0},{"x":1703,"y":0},{"x":1705,"y":0},{"x":1707,"y":0},{"x":1709,"y":0},{"x":1711,"y":0},{"x":1713,"y":0},{"x":1715,"y":0},{"x":1717,"y":0},{"x":1719,"y":0},{"x":1721,"y":0},{"x":1723,"y":0},{"x":1725,"y":0},{"x":1727,"y":0},{"x":1729,"y":0},{"x":1731,"y":0},{"x":1733,"y":0},{"x":1735,"y":0},{"x":1737,"y":0},{"x":1739,"y":0},{"x":1741,"y":0},{"x":1743,"y":0},{"x":1745,"y":0},{"x":1747,"y":0},{"x":1749,"y":0},{"x":1751,"y":0},{"x":1753,"y":0},{"x":1755,"y":0},{"x":1757,"y":0},{"x":1759,"y":0},{"x":1761,"y":0},{"x":1763,"y":0},{"x":1765,"y":0},{"x":1767,"y":0},{"x":1769,"y":0},{"x":1771,"y":0},{"x":1773,"y":0},{"x":1775,"y":0},{"x":1777,"y":0},{"x":1779,"y":0},{"x":1781,"y":0},{"x":1783,"y":0},{"x":1785,"y":0},{"x":1787,"y":0},{"x":1789,"y":0},{"x":1791,"y":0},{"x":1793,"y":0},{"x":1795,"y":0},{"x":1797,"y":0},{"x":1799,"y":0},{"x":1801,"y":0},{"x":1803,"y":0},{"x":1805,"y":0}
]
},
"layer": [
{
  "data": {"name": "init"},
  "mark": {"type": "point", "filled": true, "size": 290, "opacity": 1, "strokeWidth": 0},
  "encoding": {
    "x": {"field": "x", "type": "quantitative", "scale": {"domain": [0, 1800], "nice": false, "zero": true},
      "axis": {"values": [0,200,400,600,800,1000,1200,1400,1600,1800], "format": "d", "title": "Rank-ordered MIP probes", "labelPadding": 19, "titlePadding": 12}},
    "y": {"field": "y", "type": "quantitative", "scale": {"domain": [0, 3.5], "nice": false},
      "axis": {"values": [0,0.5,1,1.5,2,2.5,3,3.5], "format": "~g", "title": "log₁₀(unique reads)/MIP", "labelPadding": 25, "titlePadding": 10, "titleFontSize": 37, "titleY": 388}},
    "fill": {"datum": "Initial test", "type": "nominal",
      "scale": {"domain": ["Initial test", "Rebalance"], "range": ["#a5a5a5", "#999999"]},
      "legend": {"title": null, "orient": "none", "legendX": 862, "legendY": 18, "direction": "horizontal", "labelFontSize": 27.5, "labelColor": "#595959", "labelFont": "Liberation Sans", "symbolSize": 230, "columnPadding": 4, "labelOffset": 3, "padding": 0, "symbolStrokeWidth": 1.8}},
    "shape": {"datum": "Initial test", "type": "nominal", "scale": {"domain": ["Initial test", "Rebalance"], "range": ["circle", "diamond"]}},
    "stroke": {"datum": "Initial test", "type": "nominal", "scale": {"domain": ["Initial test", "Rebalance"], "range": ["#a5a5a5", "#111111"]}}
  }
},
{
  "data": {"name": "reb"},
  "mark": {"type": "point", "filled": true, "size": 380, "strokeWidth": 1.8, "strokeOpacity": 1, "fillOpacity": 1, "blend": "multiply"},
  "encoding": {
    "x": {"field": "x", "type": "quantitative"},
    "y": {"field": "y", "type": "quantitative"},
    "fill": {"datum": "Rebalance", "type": "nominal"},
    "shape": {"datum": "Rebalance", "type": "nominal"},
    "stroke": {"datum": "Rebalance", "type": "nominal"}
  }
}
]
}
